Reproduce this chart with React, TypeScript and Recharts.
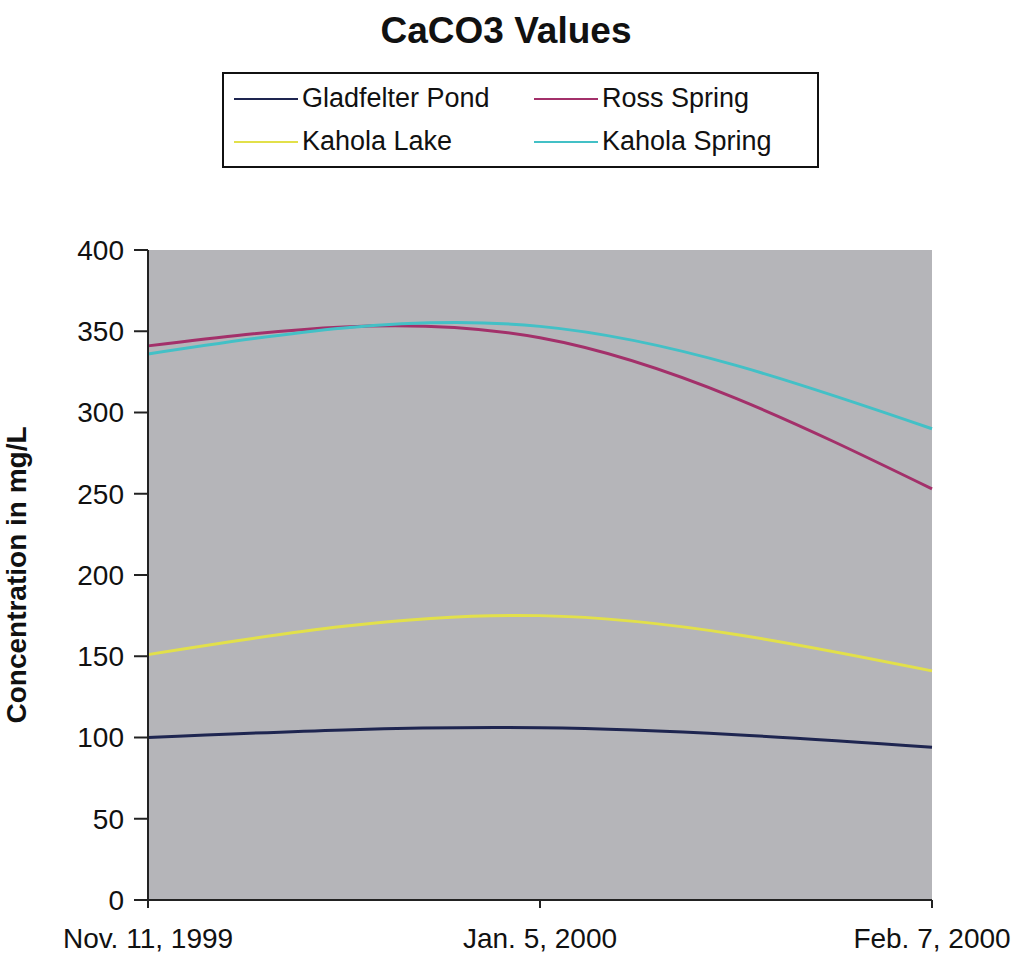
import { LineChart, Line, XAxis, YAxis, CartesianGrid, Legend } from "recharts";

const DATES = ["Nov. 11, 1999", "Jan. 5, 2000", "Feb. 7, 2000"];
const GLADFELTER_POND = [100, 106, 94];
const ROSS_SPRING = [341, 346, 253];
const KAHOLA_LAKE = [151, 175, 141];
const KAHOLA_SPRING = [336, 353, 290];
const Y_TICKS = [0, 50, 100, 150, 200, 250, 300, 350, 400];

const SERIES = [
  { key: "gladfelter", name: "Gladfelter Pond", color: "#1e2550", values: GLADFELTER_POND },
  { key: "ross", name: "Ross Spring", color: "#a3306a", values: ROSS_SPRING },
  { key: "kaholaLake", name: "Kahola Lake", color: "#e2e04a", values: KAHOLA_LAKE },
  { key: "kaholaSpring", name: "Kahola Spring", color: "#43c0c6", values: KAHOLA_SPRING },
];

const FONT = "'Liberation Sans', Arial, sans-serif";

// legend box: 2x2 grid with line swatches
function LegendBox() {
  return (
    <div
      style={{
        border: "2px solid #111",
        background: "#fff",
        display: "grid",
        gridTemplateColumns: "300px 1fr",
        rowGap: 6,
        padding: "6px 0 6px 10px",
        fontFamily: FONT,
        fontSize: 27,
        color: "#111",
        boxSizing: "border-box",
      }}
    >
      {SERIES.map((s) => (
        <div key={s.key} style={{ display: "flex", alignItems: "center", height: 37 }}>
          <span style={{ display: "inline-block", width: 64, height: 2, background: s.color, marginRight: 4 }} />
          <span>{s.name}</span>
        </div>
      ))}
    </div>
  );
}

export default function App() {
  const data = DATES.map((date, i) => {
    const row: Record<string, string | number> = { date };
    for (const s of SERIES) row[s.key] = s.values[i];
    return row;
  });

  return (
    <div style={{ position: "absolute", left: 0, top: 0, width: 1025, height: 962, background: "#fff" }}>
      <div
        style={{
          position: "absolute",
          top: 10,
          left: 0,
          width: 1012,
          textAlign: "center",
          fontFamily: FONT,
          fontWeight: "bold",
          fontSize: 37,
          color: "#111",
        }}
      >
        CaCO3 Values
      </div>
      <LineChart width={1025} height={962} data={data} margin={{ top: 250, right: 93, bottom: 12, left: 0 }}>
        <CartesianGrid fill="#b5b5b9" horizontal={false} vertical={false} />
        <XAxis
          dataKey="date"
          height={50}
          tick={{ fontSize: 28, fill: "#111", fontFamily: FONT }}
          tickSize={8}
          tickMargin={20}
          axisLine={{ stroke: "#222", strokeWidth: 2 }}
          tickLine={{ stroke: "#222", strokeWidth: 2 }}
        />
        <YAxis
          domain={[0, 400]}
          ticks={Y_TICKS}
          width={148}
          tick={{ fontSize: 28, fill: "#111", fontFamily: FONT }}
          tickSize={14}
          tickMargin={10}
          axisLine={{ stroke: "#222", strokeWidth: 2 }}
          tickLine={{ stroke: "#222", strokeWidth: 2 }}
          label={{
            value: "Concentration in mg/L",
            angle: -90,
            position: "insideLeft",
            offset: 16,
            style: { textAnchor: "middle", fontSize: 28, fontWeight: "bold", fill: "#111", fontFamily: FONT },
          }}
        />
        <Legend
          layout="horizontal"
          verticalAlign="middle"
          align="center"
          content={() => <LegendBox />}
          wrapperStyle={{ top: 72, left: 222, width: 597 }}
        />
        {SERIES.map((s) => (
          <Line
            key={s.key}
            type="natural"
            dataKey={s.key}
            name={s.name}
            stroke={s.color}
            strokeWidth={3}
            dot={false}
            isAnimationActive={false}
          />
        ))}
      </LineChart>
    </div>
  );
}
